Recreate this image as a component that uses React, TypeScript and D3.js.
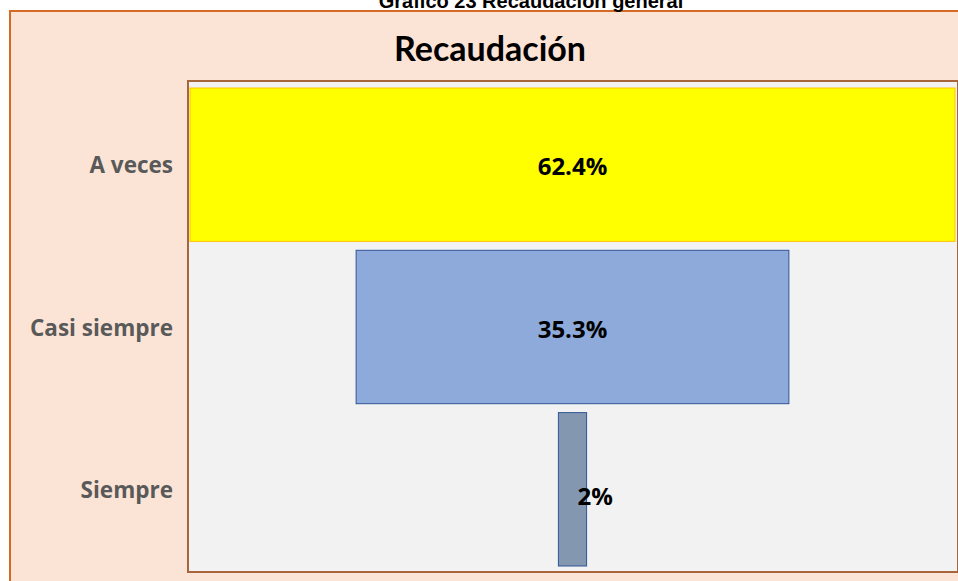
import { useEffect, useRef } from 'react'
import * as d3 from 'd3'

const categories = ['A veces', 'Casi siempre', 'Siempre']
const values = [62.4, 35.3, 2.3]
const valueLabels = ['62.4%', '35.3%', '2%']
const barColors = ['#ffff00', '#8eaadb', '#8497b0']
const barStrokes = ['#ffc000', '#2f5597', '#2f5597']

const WIDTH = 958
const HEIGHT = 581

function App() {
  const svgRef = useRef<SVGSVGElement | null>(null)

  useEffect(() => {
    const node = svgRef.current
    if (!node) return
    const svg = d3.select(node)
    svg.selectAll('*').remove()

    const open = '"Open Sans", "Noto Sans", sans-serif'

    // outer chart area (runs off the right and bottom edges)
    svg
      .append('rect')
      .attr('x', 10)
      .attr('y', 11)
      .attr('width', WIDTH + 20)
      .attr('height', HEIGHT + 20)
      .attr('fill', '#fbe4d5')
      .attr('stroke', '#d46a24')
      .attr('stroke-width', 2)

    // document caption, cut at the top as in the source
    svg
      .append('text')
      .attr('x', 531)
      .attr('y', 8)
      .attr('text-anchor', 'middle')
      .attr('font-family', '"Liberation Sans", Arial, sans-serif')
      .attr('font-weight', 'bold')
      .attr('font-size', 20)
      .attr('fill', '#000')
      .text('Gráfico 23 Recaudación general')

    svg
      .append('text')
      .attr('x', 490)
      .attr('y', 61)
      .attr('text-anchor', 'middle')
      .attr('font-family', 'Lato, sans-serif')
      .attr('font-weight', 'bold')
      .attr('font-size', 34)
      .attr('fill', '#000')
      .text('Recaudación')

    // plot area
    const plot = { left: 188, top: 81, right: 958, bottom: 572 }
    svg
      .append('rect')
      .attr('x', plot.left)
      .attr('y', plot.top)
      .attr('width', plot.right - plot.left)
      .attr('height', plot.bottom - plot.top)
      .attr('fill', '#f2f2f2')
      .attr('stroke', '#a8653c')
      .attr('stroke-width', 2)

    const inner = { left: 190, right: 955, top: 88, bottom: 566 }
    const cx = (inner.left + inner.right) / 2

    const y = d3
      .scaleBand<string>()
      .domain(categories)
      .range([inner.top, inner.bottom])
      .paddingInner(0.055)
      .paddingOuter(0)

    const w = d3
      .scaleLinear()
      .domain([0, d3.max(values) as number])
      .range([0, inner.right - inner.left])

    const rows = categories.map((c, i) => ({
      c,
      v: values[i],
      label: valueLabels[i],
      fill: barColors[i],
      stroke: barStrokes[i],
    }))

    svg
      .append('g')
      .selectAll('rect')
      .data(rows)
      .join('rect')
      .attr('x', (d) => cx - w(d.v) / 2)
      .attr('y', (d) => y(d.c) as number)
      .attr('width', (d) => w(d.v))
      .attr('height', y.bandwidth())
      .attr('fill', (d) => d.fill)
      .attr('stroke', (d) => d.stroke)
      .attr('stroke-width', 1)

    // value labels (the thin bar's label spills to the right, like Excel does)
    const thin = (d: { v: number }) => w(d.v) < 60
    svg
      .append('g')
      .selectAll('text')
      .data(rows)
      .join('text')
      .attr('x', (d) => (thin(d) ? cx + 5 : cx))
      .attr('y', (d) => (y(d.c) as number) + y.bandwidth() / 2 + (thin(d) ? 16 : 10.5))
      .attr('text-anchor', (d) => (thin(d) ? 'start' : 'middle'))
      .attr('font-family', open)
      .attr('font-weight', 'bold')
      .attr('font-size', 24)
      .attr('fill', '#000')
      .text((d) => d.label)

    // category labels
    svg
      .append('g')
      .selectAll('text')
      .data(rows)
      .join('text')
      .attr('x', 173)
      .attr('y', (d) => (y(d.c) as number) + y.bandwidth() / 2 + 8.5)
      .attr('text-anchor', 'end')
      .attr('font-family', open)
      .attr('font-weight', 'bold')
      .attr('font-size', 22.5)
      .attr('fill', '#595959')
      .text((d) => d.c)
  }, [])

  return (
    <svg
      ref={svgRef}
      width={WIDTH}
      height={HEIGHT}
      style={{ position: 'absolute', left: 0, top: 0, background: '#fff' }}
    />
  )
}

export default App
